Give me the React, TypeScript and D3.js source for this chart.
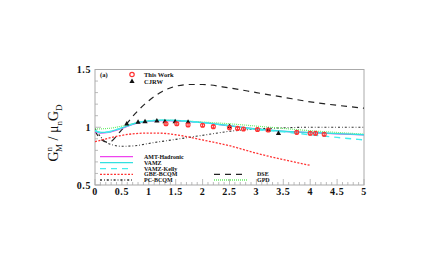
import React from "react";
import * as d3 from "d3";

const W = 431, H = 273;

// Curves: [x, value]
const amtX = [0, 0.1, 0.25, 0.5, 0.75, 1, 1.25, 1.5, 2, 2.5, 3, 3.5, 4, 4.5, 5];
const amtY = [0.96, 0.95, 0.955, 0.99, 1.03, 1.05, 1.057, 1.055, 1.04, 1.012, 0.985, 0.965, 0.953, 0.943, 0.933];
const vamzX = [0, 0.1, 0.25, 0.5, 0.75, 1, 1.25, 1.5, 2, 2.5, 3, 3.5, 4, 4.5, 5];
const vamzY = [0.97, 0.955, 0.96, 0.995, 1.035, 1.055, 1.06, 1.058, 1.04, 1.013, 0.985, 0.965, 0.955, 0.945, 0.935];
const kellyX = [0, 0.1, 0.25, 0.5, 0.75, 1, 1.25, 1.5, 2, 2.5, 3, 3.5, 4, 4.5, 5];
const kellyY = [0.97, 0.955, 0.96, 0.995, 1.035, 1.055, 1.06, 1.058, 1.04, 1.012, 0.98, 0.96, 0.935, 0.912, 0.89];
const gbeX = [0, 0.25, 0.5, 0.75, 1, 1.25, 1.5, 1.75, 2, 2.5, 3, 3.5, 4];
const gbeY = [0.875, 0.905, 0.93, 0.945, 0.95, 0.948, 0.935, 0.915, 0.89, 0.84, 0.775, 0.72, 0.67];
const pcX = [0, 0.1, 0.25, 0.5, 0.75, 1, 1.5, 2, 2.5, 3, 3.5, 4, 4.5, 5];
const pcY = [0.99, 0.92, 0.86, 0.835, 0.84, 0.86, 0.895, 0.93, 0.965, 0.985, 0.995, 1.0, 1.0, 1.0];
const dseX = [0, 0.1, 0.25, 0.5, 0.75, 1, 1.25, 1.5, 1.75, 2, 2.5, 3, 3.5, 4, 4.5, 5];
const dseY = [0.97, 0.9, 0.87, 0.98, 1.12, 1.23, 1.31, 1.355, 1.37, 1.37, 1.34, 1.3, 1.26, 1.22, 1.19, 1.165];
const gpdX = [0, 0.25, 0.5, 0.75, 1, 1.25, 1.5, 2, 2.5, 3, 3.5, 4, 4.5, 5];
const gpdY = [0.985, 0.99, 1.01, 1.035, 1.055, 1.06, 1.058, 1.045, 1.03, 1.01, 0.99, 0.97, 0.955, 0.94];

// Data points
const thisWorkX = [1.32, 1.52, 1.73, 2.0, 2.2, 2.5, 2.65, 2.76, 3.02, 3.22, 3.75, 4.0, 4.1, 4.26];
const thisWorkY = [1.03, 1.03, 1.02, 1.017, 1.005, 0.996, 0.99, 0.985, 0.98, 0.976, 0.956, 0.948, 0.948, 0.94];
const thisWorkErr = [0.012, 0.012, 0.012, 0.012, 0.012, 0.012, 0.012, 0.012, 0.012, 0.012, 0.014, 0.014, 0.014, 0.014];
const cjrwX = [0.59, 0.8, 0.93, 1.15, 1.3, 1.49, 1.73, 2.5, 3.22, 3.41];
const cjrwY = [1.03, 1.045, 1.05, 1.056, 1.05, 1.05, 1.045, 1.008, 0.978, 0.948];

const xTicks = [0, 0.5, 1, 1.5, 2, 2.5, 3, 3.5, 4, 4.5, 5];
const xTickLabels = ["0", "0.5", "1", "1.5", "2", "2.5", "3", "3.5", "4", "4.5", "5"];
const yTicks = [0.5, 1, 1.5];
const yTickLabels = ["0.5", "1", "1.5"];

const left = 95, right = 364, top = 69.5, bottom = 185;

export default function App() {
  const x = d3.scaleLinear().domain([0, 5]).range([left, right]);
  const y = d3.scaleLinear().domain([0.5, 1.5]).range([bottom, top]);
  const mk = (xs: number[], ys: number[]) =>
    d3.line<number>().x((_, i) => x(xs[i])).y((_, i) => y(ys[i])).curve(d3.curveMonotoneX)(ys.map((v) => v)) || "";

  const serif = "'Liberation Serif', 'Times New Roman', serif";
  const minorX = d3.range(0, 5.001, 0.1);
  const minorY = d3.range(0.5, 1.501, 0.1);

  const legendLines = [
    { label: "AMT-Hadronic", color: "#ee44ee", dash: "", yy: 156.7, lx: 100, tx: 144 },
    { label: "VAMZ", color: "#33e0e0", dash: "", yy: 162.7, lx: 100, tx: 144 },
    { label: "VAMZ-Kelly", color: "#44eeee", dash: "6,5", yy: 168.7, lx: 100, tx: 144 },
    { label: "GBE-BCQM", color: "#ff3333", dash: "2,1.5", yy: 174.3, lx: 100, tx: 144 },
    { label: "PC-BCQM", color: "#333", dash: "2,2,0.8,2", yy: 180, lx: 100, tx: 144 },
    { label: "DSE", color: "#222", dash: "6,5", yy: 174.3, lx: 214, tx: 257 },
    { label: "GPD", color: "#66ee66", dash: "1,1", yy: 180, lx: 214, tx: 257 },
  ];

  return (
    <svg width={W} height={H} style={{ position: "absolute", left: 0, top: 0 }}>
      <rect x={0} y={0} width={W} height={H} fill="white" />
      {/* frame */}
      <rect x={left} y={top} width={right - left} height={bottom - top} fill="none" stroke="#aaa" strokeWidth={1} />
      {/* ticks */}
      {minorX.map((t, i) => {
        const major = i % 5 === 0;
        return <line key={"xt" + i} x1={x(t)} x2={x(t)} y1={bottom} y2={bottom - (major ? 6 : 3)} stroke="#aaa" strokeWidth={0.8} />;
      })}
      {minorY.map((t, i) => {
        const major = i % 5 === 0;
        return <line key={"yt" + i} x1={left} x2={left + (major ? 6 : 3)} y1={y(t)} y2={y(t)} stroke="#aaa" strokeWidth={0.8} />;
      })}
      {xTicks.map((t, i) => (
        <text key={"xl" + i} x={x(t)} y={195} textAnchor="middle" fontFamily={serif} fontWeight="bold" fontSize={10} letterSpacing={0.6} fill="#111">
          {xTickLabels[i]}
        </text>
      ))}
      {yTicks.map((t, i) => (
        <text key={"yl" + i} x={91} y={y(t) + 3.5} textAnchor="end" fontFamily={serif} fontWeight="bold" fontSize={10} letterSpacing={0.6} fill="#111">
          {yTickLabels[i]}
        </text>
      ))}
      {/* y title */}
      <text transform="translate(58,133) rotate(-90)" textAnchor="middle" fontFamily={serif} fontSize={14} fill="#111">
        <tspan>G</tspan>
        <tspan fontSize={9} dy={-6}>n</tspan>
        <tspan fontSize={9} dx={-5} dy={10}>M</tspan>
        <tspan dy={-4}> / μ</tspan>
        <tspan fontSize={9} dy={4}>n</tspan>
        <tspan dy={-4}>G</tspan>
        <tspan fontSize={9} dy={4}>D</tspan>
      </text>
      <clipPath id="plotclip">
        <rect x={left} y={top} width={right - left} height={bottom - top} />
      </clipPath>
      <g clipPath="url(#plotclip)" fill="none">
        <path d={mk(dseX, dseY)} stroke="#222" strokeWidth={1.2} strokeDasharray="6,5" />
        <path d={mk(pcX, pcY)} stroke="#333" strokeWidth={1.1} strokeDasharray="2,2,0.8,2" />
        <path d={mk(gbeX, gbeY)} stroke="#ff3333" strokeWidth={1.3} strokeDasharray="2,1.5" />
        <path d={mk(amtX, amtY)} stroke="#ee44ee" strokeWidth={1.2} />
        <path d={mk(gpdX, gpdY)} stroke="#66ee66" strokeWidth={1.2} strokeDasharray="1,1" />
        <path d={mk(vamzX, vamzY)} stroke="#33e0e0" strokeWidth={1.4} />
        <path d={mk(kellyX, kellyY)} stroke="#44eeee" strokeWidth={1.4} strokeDasharray="6,5" />
      </g>
      {/* CJRW triangles */}
      {cjrwX.map((v, i) => {
        const cx = x(v), cy = y(cjrwY[i]);
        return <path key={"tr" + i} d={`M${cx},${cy - 2.8}L${cx + 2.6},${cy + 1.8}L${cx - 2.6},${cy + 1.8}Z`} fill="#111" />;
      })}
      {/* This work */}
      {thisWorkX.map((v, i) => {
        const cx = x(v), cy = y(thisWorkY[i]);
        const y1 = y(thisWorkY[i] + thisWorkErr[i]), y2 = y(thisWorkY[i] - thisWorkErr[i]);
        return (
          <g key={"tw" + i} stroke="#ff3333" strokeWidth={1.1} fill="none">
            <line x1={cx} x2={cx} y1={y1} y2={y2} />
            <line x1={cx - 1.5} x2={cx + 1.5} y1={y1} y2={y1} />
            <line x1={cx - 1.5} x2={cx + 1.5} y1={y2} y2={y2} />
            <circle cx={cx} cy={cy} r={2} />
          </g>
        );
      })}
      {/* top legend */}
      <text x={100} y={76.8} fontFamily={serif} fontWeight="bold" fontSize={6.5} fill="#111">(a)</text>
      <circle cx={132} cy={74.5} r={2.2} fill="none" stroke="#ff3333" strokeWidth={1.2} />
      <text x={144} y={76.8} fontFamily={serif} fontWeight="bold" fontSize={6.5} fill="#111">This Work</text>
      <path d="M132,78.5L134.6,83L129.4,83Z" fill="#111" />
      <text x={144} y={83.6} fontFamily={serif} fontWeight="bold" fontSize={6.5} fill="#111">CJRW</text>
      {/* bottom legend */}
      {legendLines.map((l) => (
        <g key={l.label}>
          <line x1={l.lx} x2={l.lx + 33} y1={l.yy} y2={l.yy} stroke={l.color} strokeWidth={1.3} strokeDasharray={l.dash} />
          <text x={l.tx} y={l.yy + 2} fontFamily={serif} fontWeight="bold" fontSize={6} fill="#111">{l.label}</text>
        </g>
      ))}
    </svg>
  );
}
